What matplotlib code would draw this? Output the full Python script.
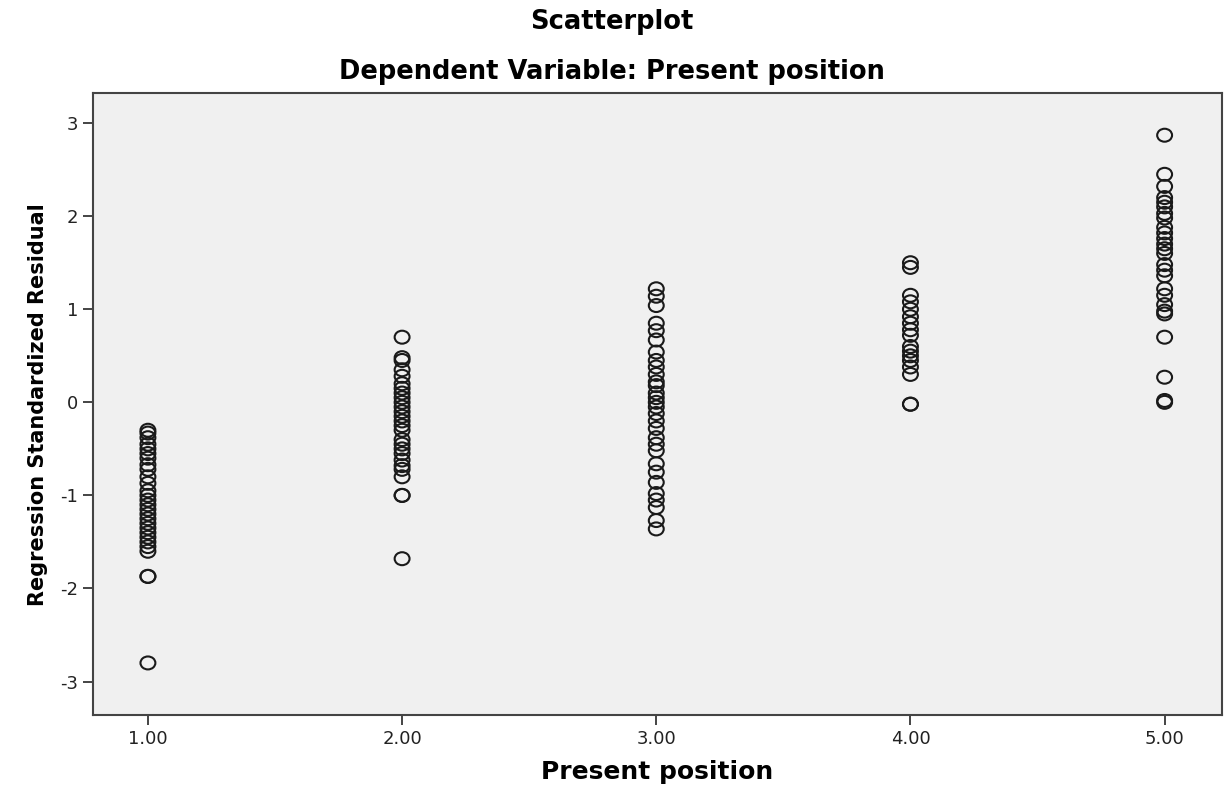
import matplotlib
matplotlib.use("Agg")
import matplotlib.pyplot as plt
from matplotlib.path import Path
from matplotlib.transforms import Affine2D

plt.rcParams['font.family'] = ['DejaVu Sans']
plt.rcParams['axes.unicode_minus'] = False

# --- data ---
pos_1 = [-0.30, -0.33, -0.38, -0.45, -0.50, -0.55, -0.60, -0.67, -0.72, -0.80,
         -0.87, -0.95, -1.00, -1.05, -1.10, -1.15, -1.20, -1.25, -1.30, -1.35,
         -1.40, -1.45, -1.50, -1.55, -1.60, -1.87, -1.87, -2.80]
pos_2 = [0.70, 0.48, 0.45, 0.35, 0.28, 0.20, 0.15, 0.10, 0.05, 0.00, -0.05,
         -0.10, -0.15, -0.20, -0.25, -0.30, -0.40, -0.45, -0.50, -0.55, -0.62,
         -0.68, -0.72, -0.80, -1.00, -1.00, -1.68]
pos_3 = [1.22, 1.14, 1.04, 0.85, 0.77, 0.67, 0.54, 0.45, 0.38, 0.30, 0.22,
         0.18, 0.10, 0.05, 0.00, -0.05, -0.12, -0.20, -0.28, -0.38, -0.45,
         -0.52, -0.66, -0.75, -0.86, -0.98, -1.05, -1.13, -1.27, -1.36]
pos_4 = [1.50, 1.45, 1.15, 1.08, 1.00, 0.92, 0.85, 0.78, 0.72, 0.60, 0.55,
         0.50, 0.45, 0.38, 0.30, -0.02, -0.02]
pos_5 = [2.87, 2.45, 2.32, 2.20, 2.15, 2.10, 2.03, 1.98, 1.88, 1.82, 1.76,
         1.70, 1.65, 1.60, 1.48, 1.42, 1.36, 1.22, 1.15, 1.05, 0.98, 0.95,
         0.70, 0.27, 0.02, 0.00]

groups = [1, 2, 3, 4, 5]
residuals = [pos_1, pos_2, pos_3, pos_4, pos_5]
x_ticks = [1, 2, 3, 4, 5]
x_labels = ['1.00', '2.00', '3.00', '4.00', '5.00']
y_ticks = [-3, -2, -1, 0, 1, 2, 3]

# slightly wide ellipse, the reference image is stretched sideways
ellipse = Path.unit_circle().transformed(Affine2D().scale(1.15, 1.0))

fig = plt.figure(figsize=(12.24, 7.91), dpi=100)
ax = fig.add_axes([0.076, 0.096, 0.922, 0.786])
ax.set_facecolor('#f0f0f0')

for g, vals in zip(groups, residuals):
    ax.scatter([g] * len(vals), vals, s=115, marker=ellipse,
               facecolors='none', edgecolors='#1a1a1a', linewidths=1.5)

ax.set_xlim(0.784, 5.224)
ax.set_ylim(-3.36, 3.32)
ax.set_xticks(x_ticks)
ax.set_xticklabels(x_labels)
ax.set_yticks(y_ticks)
ax.tick_params(labelsize=13, length=7, width=1.4, color='#444444',
               labelcolor='#222222')
for sp in ax.spines.values():
    sp.set_color('#444444')
    sp.set_linewidth(1.5)

ax.set_xlabel('Present position', fontsize=18, fontweight='bold', labelpad=9)
ax.set_ylabel('Regression Standardized Residual', fontsize=15,
              fontweight='bold', labelpad=9)

fig.text(0.5, 0.972, 'Scatterplot', ha='center', va='center',
         fontsize=18.5, fontweight='bold')
fig.text(0.5, 0.909, 'Dependent Variable: Present position', ha='center',
         va='center', fontsize=18.5, fontweight='bold')

plt.savefig('out.png', dpi=100)
plt.close()
